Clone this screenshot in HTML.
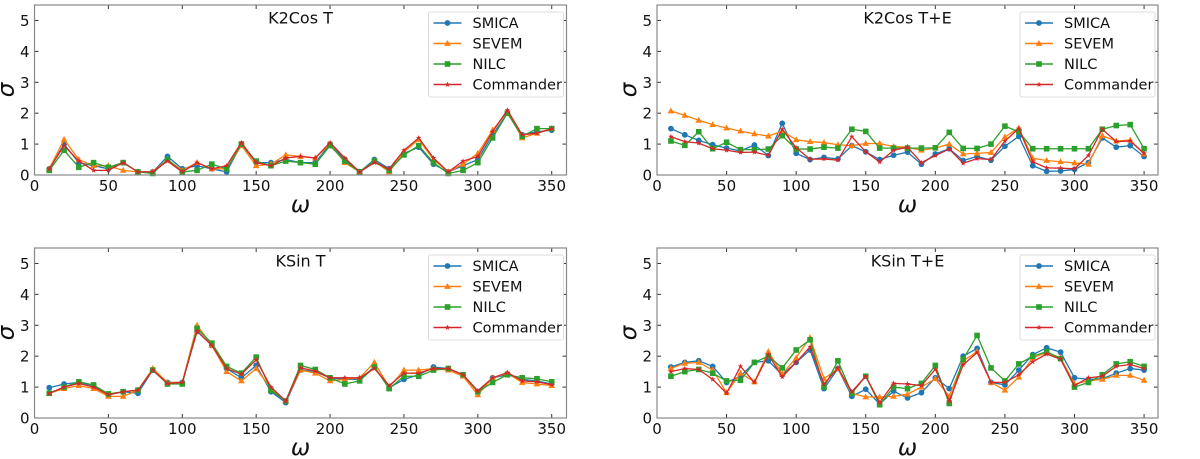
<!DOCTYPE html>
<html><head><meta charset="utf-8">
<style>
html,body{margin:0;padding:0;background:#fff;}
svg{display:block;font-family:"DejaVu Sans","Liberation Sans",sans-serif;}
</style></head>
<body>
<svg id="fig" width="1200" height="459" viewBox="0 0 1200 459" xmlns="http://www.w3.org/2000/svg"></svg>
<script>
const omega = [10,20,30,40,50,60,70,80,90,100,110,120,130,140,150,160,170,180,190,200,210,220,230,240,250,260,270,280,290,300,310,320,330,340,350];
const xTicks = [0,50,100,150,200,250,300,350];
const yTicks = [0,1,2,3,4,5];
const seriesNames = ["SMICA","SEVEM","NILC","Commander"];
const panelTitles = ["K2Cos T","K2Cos T+E","KSin T","KSin T+E"];

const k2cosT_smica = [0.2,1.0,0.4,0.3,0.2,0.4,0.1,0.1,0.6,0.2,0.3,0.2,0.1,1.0,0.4,0.4,0.5,0.4,0.4,1.0,0.5,0.1,0.5,0.2,0.7,0.9,0.35,0.1,0.3,0.5,1.3,2.0,1.3,1.4,1.45];
const k2cosT_sevem = [0.2,1.15,0.5,0.3,0.3,0.15,0.1,0.1,0.5,0.15,0.4,0.2,0.2,0.95,0.3,0.35,0.65,0.6,0.55,1.0,0.4,0.1,0.45,0.1,0.75,1.15,0.5,0.1,0.35,0.7,1.45,2.05,1.2,1.35,1.5];
const k2cosT_nilc = [0.15,0.8,0.25,0.4,0.25,0.4,0.1,0.05,0.5,0.1,0.15,0.35,0.2,1.0,0.45,0.3,0.45,0.4,0.35,0.95,0.45,0.1,0.45,0.15,0.65,0.95,0.4,0.05,0.15,0.4,1.2,2.0,1.25,1.5,1.5];
const k2cosT_commander = [0.2,0.95,0.45,0.15,0.15,0.4,0.1,0.1,0.45,0.1,0.4,0.2,0.3,1.05,0.4,0.3,0.55,0.6,0.55,1.05,0.55,0.1,0.4,0.2,0.8,1.2,0.55,0.1,0.45,0.6,1.4,2.1,1.3,1.35,1.5];

const k2cosTE_smica = [1.5,1.3,1.12,0.98,0.87,0.78,0.97,0.63,1.67,0.7,0.5,0.57,0.52,0.95,0.75,0.5,0.64,0.74,0.35,0.68,0.85,0.47,0.6,0.48,0.93,1.25,0.3,0.12,0.13,0.18,0.4,1.2,0.9,0.95,0.6];
const k2cosTE_sevem = [2.07,1.93,1.77,1.63,1.52,1.42,1.33,1.26,1.42,1.14,1.08,1.05,0.98,0.95,1.02,1.02,0.92,0.9,0.8,0.87,1.0,0.68,0.7,0.73,1.23,1.52,0.54,0.47,0.43,0.39,0.35,1.27,1.1,1.13,0.68];
const k2cosTE_nilc = [1.1,0.96,1.4,0.85,1.06,0.82,0.82,0.84,1.27,0.84,0.84,0.9,0.87,1.48,1.41,0.87,0.87,0.87,0.87,0.88,1.38,0.86,0.86,1.0,1.58,1.4,0.85,0.85,0.85,0.85,0.85,1.48,1.6,1.63,0.85];
const k2cosTE_commander = [1.24,1.08,1.03,0.85,0.8,0.73,0.74,0.63,1.48,0.88,0.51,0.52,0.48,1.24,0.75,0.42,0.8,0.9,0.4,0.63,0.84,0.38,0.53,0.5,1.1,1.5,0.43,0.23,0.22,0.2,0.63,1.48,1.08,1.1,0.7];

const ksinT_smica = [0.98,1.1,1.15,1.05,0.75,0.85,0.8,1.55,1.15,1.15,2.8,2.35,1.6,1.3,1.7,0.85,0.5,1.55,1.5,1.3,1.25,1.25,1.65,0.98,1.25,1.4,1.65,1.6,1.4,0.85,1.3,1.4,1.25,1.2,1.1];
const ksinT_sevem = [0.8,0.95,1.05,0.95,0.7,0.7,0.9,1.6,1.15,1.15,3.0,2.35,1.5,1.2,1.6,0.95,0.55,1.55,1.45,1.2,1.25,1.3,1.8,1.0,1.55,1.55,1.6,1.55,1.35,0.75,1.3,1.45,1.15,1.1,1.05];
const ksinT_nilc = [0.8,1.0,1.17,1.07,0.78,0.85,0.9,1.55,1.1,1.1,2.9,2.42,1.67,1.45,1.97,0.9,0.55,1.7,1.57,1.3,1.1,1.2,1.65,0.95,1.35,1.35,1.55,1.6,1.4,0.85,1.15,1.4,1.3,1.27,1.17];
const ksinT_commander = [0.8,1.0,1.12,1.0,0.75,0.85,0.9,1.55,1.12,1.15,2.82,2.35,1.6,1.42,1.88,1.0,0.55,1.62,1.52,1.3,1.3,1.3,1.6,1.05,1.45,1.45,1.6,1.6,1.4,0.88,1.3,1.47,1.2,1.17,1.08];

const ksinTE_smica = [1.65,1.8,1.85,1.67,1.15,1.35,1.8,1.85,1.4,1.8,2.2,0.95,1.6,0.7,0.93,0.45,0.87,0.65,0.82,1.3,0.95,2.0,2.25,1.15,1.07,1.55,2.05,2.27,2.13,1.3,1.25,1.27,1.45,1.6,1.55];
const ksinTE_sevem = [1.6,1.77,1.8,1.55,0.82,1.45,1.17,2.15,1.42,1.95,2.6,1.27,1.6,0.8,0.68,0.68,0.7,0.77,1.0,1.27,0.7,1.85,2.15,1.15,0.9,1.32,1.95,2.12,1.95,1.1,1.2,1.25,1.38,1.38,1.22];
const ksinTE_nilc = [1.35,1.5,1.57,1.45,1.2,1.22,1.8,2.0,1.62,2.2,2.53,1.0,1.85,0.8,1.35,0.43,1.0,0.95,1.12,1.7,0.47,1.9,2.67,1.62,1.2,1.75,2.0,2.15,1.92,1.0,1.15,1.4,1.75,1.82,1.67];
const ksinTE_commander = [1.5,1.6,1.57,1.25,0.8,1.67,1.15,2.05,1.33,1.8,2.3,1.1,1.62,0.85,1.35,0.5,1.12,1.1,1.05,1.58,0.55,1.72,2.12,1.15,1.15,1.4,1.82,2.07,1.9,1.05,1.3,1.35,1.67,1.73,1.6];

const panelData = [
  [k2cosT_smica,k2cosT_sevem,k2cosT_nilc,k2cosT_commander],
  [k2cosTE_smica,k2cosTE_sevem,k2cosTE_nilc,k2cosTE_commander],
  [ksinT_smica,ksinT_sevem,ksinT_nilc,ksinT_commander],
  [ksinTE_smica,ksinTE_sevem,ksinTE_nilc,ksinTE_commander]
];

const NS = "http://www.w3.org/2000/svg";
const svg = document.getElementById("fig");
const colors = ["#1f77b4","#ff7f0e","#2ca02c","#d62728"];
const markers = ["circle","triangle","square","star"];
const boxes = [
  {l:34.5,r:566.5,t:5,b:175},
  {l:657,r:1158,t:5,b:175},
  {l:34.5,r:566.5,t:248,b:418},
  {l:657,r:1158,t:248,b:418}
];
const XMAX = 360, YMAX = 5.5;

function mk(tag, attrs, parent){
  const e = document.createElementNS(NS, tag);
  for (const k in attrs) e.setAttribute(k, attrs[k]);
  (parent||svg).appendChild(e);
  return e;
}
function marker(g, type, x, y, c){
  let m;
  if (type==="circle") m = mk("circle",{cx:x,cy:y,r:2.9,fill:c},g);
  else if (type==="square") m = mk("rect",{x:x-2.8,y:y-2.8,width:5.6,height:5.6,fill:c},g);
  else if (type==="triangle") m = mk("polygon",{points:`${x},${y-3.5} ${x-3.3},${y+2.4} ${x+3.3},${y+2.4}`,fill:c},g);
  else {
    let pts=[];
    for(let i=0;i<10;i++){const a=-Math.PI/2+i*Math.PI/5;const r=i%2?1.2:2.9;pts.push((x+r*Math.cos(a)).toFixed(2)+","+(y+r*Math.sin(a)).toFixed(2));}
    m = mk("polygon",{points:pts.join(" "),fill:c},g);
  }
  return m;
}

panelData.forEach((series, p) => {
  const B = boxes[p];
  const xs = v => B.l + v/XMAX*(B.r-B.l);
  const ys = v => B.b - v/YMAX*(B.b-B.t);
  const pg = mk("g",{});
  
  

  xTicks.forEach(t => {
    const x = xs(t);
    mk("line",{x1:x,x2:x,y1:B.b,y2:B.b-4,stroke:"#333","stroke-width":1},pg);
    mk("line",{x1:x,x2:x,y1:B.t,y2:B.t+4,stroke:"#333","stroke-width":1},pg);
    const tx = mk("text",{x:x,y:B.b+16,"text-anchor":"middle","font-size":"15",fill:"#111"},pg);
    tx.textContent = t;
    
    
  });
  yTicks.forEach(t => {
    const y = ys(t);
    mk("line",{x1:B.l,x2:B.l+4,y1:y,y2:y,stroke:"#333","stroke-width":1},pg);
    mk("line",{x1:B.r,x2:B.r-4,y1:y,y2:y,stroke:"#333","stroke-width":1},pg);
    const ty = mk("text",{x:B.l-5,y:y+5.5,"text-anchor":"end","font-size":"15",fill:"#111"},pg);
    ty.textContent = t;
    
    
  });

  series.forEach((vals, s) => {
    const sg = mk("g",{},pg);
    
    
    const pts = vals.map((v,i) => xs(omega[i]).toFixed(2)+","+ys(v).toFixed(2)).join(" ");
    const ln = mk("polyline",{points:pts,fill:"none",stroke:colors[s],"stroke-width":1.3},sg);
    
    
    vals.forEach((v,i) => {
      const m = marker(sg, markers[s], xs(omega[i]), ys(v), colors[s]);
      
      
    });
  });

  const fr = mk("rect",{x:B.l,y:B.t,width:B.r-B.l,height:B.b-B.t,fill:"none",stroke:"#888","stroke-width":1.2},pg);
  
  

  const ti = mk("text",{x:(B.l+B.r)/2,y:B.t+18.5,"text-anchor":"middle","font-size":"16",fill:"#111"},pg);
  ti.textContent = panelTitles[p];
  
  

  const xl = mk("text",{x:(B.l+B.r)/2,y:B.b+37,"text-anchor":"middle","font-size":"23","font-style":"italic",fill:"#111"},pg);
  xl.textContent = "ω";
  
  
  const yx = B.l-21, yy=(B.t+B.b)/2;
  const yl = mk("text",{x:yx,y:yy,"text-anchor":"middle","font-size":"23","font-style":"italic",fill:"#111",transform:`rotate(-90 ${yx} ${yy})`},pg);
  yl.textContent = "σ";
  
  

  const lg = mk("g",{},pg);
  
  
  const LR = B.r-3, LL = LR-135;
  mk("rect",{x:LL,y:B.t+7,width:135,height:85,fill:"#fff",stroke:"#ddd","stroke-width":1,rx:2},lg);
  seriesNames.forEach((n,s) => {
    const y = B.t+18+s*20.5;
    const e = mk("g",{},lg);
    
    
    mk("line",{x1:LL+5,x2:LL+33,y1:y,y2:y,stroke:colors[s],"stroke-width":1.4},e);
    marker(e, markers[s], LL+19, y, colors[s]);
    const t = mk("text",{x:LL+44,y:y+5,"font-size":"14.5",fill:"#111"},e);
    t.textContent = n;
  });
});
</script>
</body></html>
